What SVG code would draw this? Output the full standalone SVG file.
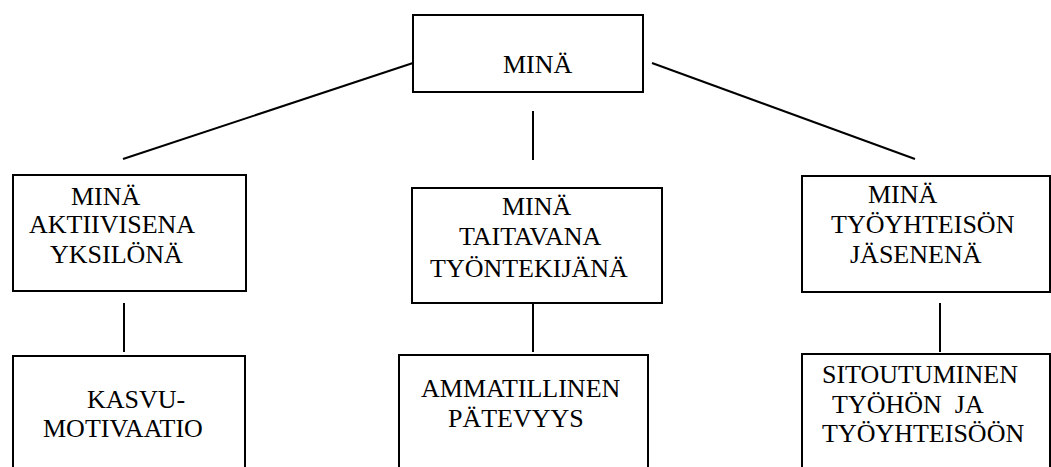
<svg xmlns="http://www.w3.org/2000/svg" width="1051" height="467" viewBox="0 0 1051 467">
<style>
.box{fill:#fff;stroke:#000;stroke-width:2}
.ln{stroke:#000;stroke-width:2;fill:none}
</style>
<rect width="1051" height="467" fill="#fff"/>
<g id="connectors">
<line class="ln" x1="413" y1="63" x2="123" y2="159"/>
<line class="ln" x1="533" y1="111" x2="533" y2="160"/>
<line class="ln" x1="652" y1="63" x2="915" y2="159"/>
<line class="ln" x1="124" y1="303" x2="124" y2="352"/>
<line class="ln" x1="533" y1="303" x2="533" y2="352"/>
<line class="ln" x1="940" y1="303" x2="940" y2="352"/>
</g>
<g font-family="Liberation Serif, serif" font-size="26" fill="#000">
<g id="n-mina">
<rect class="box" x="413" y="15" width="230" height="77"/>
<text x="503" y="73">MINÄ</text>
</g>
<g id="n-aktiivisena">
<rect class="box" x="13" y="175" width="233" height="116"/>
<text x="71" y="205">MINÄ</text>
<text x="29" y="233">AKTIIVISENA</text>
<text x="50" y="263">YKSILÖNÄ</text>
</g>
<g id="n-taitavana">
<rect class="box" x="412" y="188" width="250" height="115"/>
<text x="502" y="215">MINÄ</text>
<text x="459" y="245">TAITAVANA</text>
<text x="430" y="277">TYÖNTEKIJÄNÄ</text>
</g>
<g id="n-jasenena">
<rect class="box" x="802" y="176" width="248" height="116"/>
<text x="868" y="203">MINÄ</text>
<text x="831" y="233">TYÖYHTEISÖN</text>
<text x="850" y="263">JÄSENENÄ</text>
</g>
<g id="n-kasvu">
<rect class="box" x="13" y="356" width="232" height="130"/>
<text x="87" y="408">KASVU-</text>
<text x="43" y="437">MOTIVAATIO</text>
</g>
<g id="n-patevyys">
<rect class="box" x="399" y="355" width="249" height="130"/>
<text x="421" y="397">AMMATILLINEN</text>
<text x="448" y="427">PÄTEVYYS</text>
</g>
<g id="n-sitoutuminen">
<rect class="box" x="802" y="354" width="248" height="130"/>
<text x="822" y="383">SITOUTUMINEN</text>
<text x="832" y="413" xml:space="preserve">TYÖHÖN  JA</text>
<text x="822" y="442">TYÖYHTEISÖÖN</text>
</g>
</g>
</svg>
